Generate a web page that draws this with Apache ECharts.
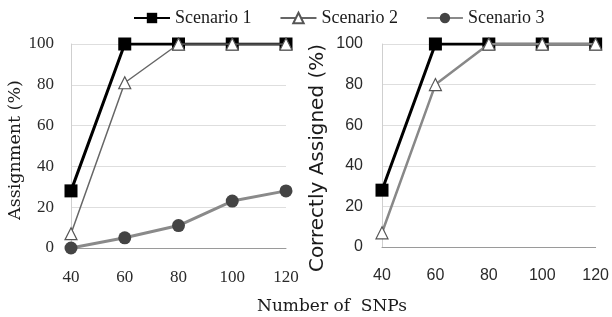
<!DOCTYPE html>
<html><head><meta charset="utf-8">
<script src="https://cdn.jsdelivr.net/npm/echarts@6/dist/echarts.min.js"></script>
<style>html,body{margin:0;padding:0;background:#fff}#c{width:612px;height:317px}</style>
</head><body><div id="c"></div>
<script>
const categories = ['40','60','80','100','120'];
const leftS1 = [28,100,100,100,100];
const leftS2 = [7,81,100,100,100];
const leftS3 = [0,5,11,23,28];
const rightS1 = [28,100,100,100,100];
const rightS2 = [7,80,100,100,100];
const seriesNames = ['Scenario 1','Scenario 2','Scenario 3'];
const leftYTitle = 'Assignment (%)';
const rightYTitle = 'Correctly Assigned (%)';
const xTitle = 'Number of  SNPs';

const chart = echarts.init(document.getElementById('c'));
const serif = 'Liberation Serif';
const sans = 'Liberation Sans';
function xAxis(gi, font, size){
  return {type:'category', gridIndex:gi, data:categories, boundaryGap:false,
    axisLine:{lineStyle:{color:'#9a9a9a',width:1}}, axisTick:{show:false},
    axisLabel:{color:'#2a2a2a', fontFamily:font, fontSize:size, margin:21}};
}
function yAxis(gi, font, size, margin){
  return {type:'value', gridIndex:gi, min:0, max:100, interval:20,
    axisLine:{show:true, lineStyle:{color:'#cfcfcf'}}, axisTick:{show:false},
    splitLine:{lineStyle:{color:'#dedede'}},
    axisLabel:{color:'#2a2a2a', fontFamily:font, fontSize:size, margin:margin}};
}
const s1Style = {type:'line', symbol:'rect', symbolSize:13, itemStyle:{color:'#000'}, lineStyle:{color:'#000', width:3}, z:3};
const s2Style = {type:'line', symbol:'triangle', symbolSize:12, itemStyle:{color:'#fff', borderColor:'#555', borderWidth:1.2}, lineStyle:{color:'#888', width:2.5}, z:4};
const s3Style = {type:'line', symbol:'circle', symbolSize:13, itemStyle:{color:'#444'}, lineStyle:{color:'#8a8a8a', width:3}, z:2};
chart.setOption({
  animation:false,
  legend:{top:4, left:128, itemWidth:36, itemHeight:13, itemGap:28,
    textStyle:{fontFamily:serif, fontSize:18, color:'#1a1a1a'},
    data:seriesNames},
  grid:[{left:71, right:326, top:44, bottom:69},{left:382, right:16, top:44, bottom:70}],
  xAxis:[xAxis(0, serif, 17), xAxis(1, sans, 16)],
  yAxis:[yAxis(0, serif, 17, 17), yAxis(1, sans, 16, 19)],
  graphic:[
    {type:'text', x:257, y:307, style:{text:xTitle, font:'17px "DejaVu Serif"', fill:'#1a1a1a', verticalAlign:'middle'}},
    {type:'text', x:15, y:150, rotation:Math.PI/2, style:{text:leftYTitle, font:'17.5px "DejaVu Serif"', fill:'#1a1a1a', align:'center', verticalAlign:'middle'}},
    {type:'text', x:318, y:158, rotation:Math.PI/2, style:{text:rightYTitle, font:'20px "DejaVu Sans"', fill:'#1a1a1a', align:'center', verticalAlign:'middle'}}
  ],
  series:[
    Object.assign({name:seriesNames[0], xAxisIndex:0, yAxisIndex:0, data:leftS1}, s1Style),
    Object.assign({name:seriesNames[1], xAxisIndex:0, yAxisIndex:0, data:leftS2}, s2Style, {lineStyle:{color:'#666', width:1.5}}),
    Object.assign({name:seriesNames[2], xAxisIndex:0, yAxisIndex:0, data:leftS3}, s3Style),
    Object.assign({name:seriesNames[0], xAxisIndex:1, yAxisIndex:1, data:rightS1}, s1Style),
    Object.assign({name:seriesNames[1], xAxisIndex:1, yAxisIndex:1, data:rightS2}, s2Style)
  ]
});
</script></body></html>
